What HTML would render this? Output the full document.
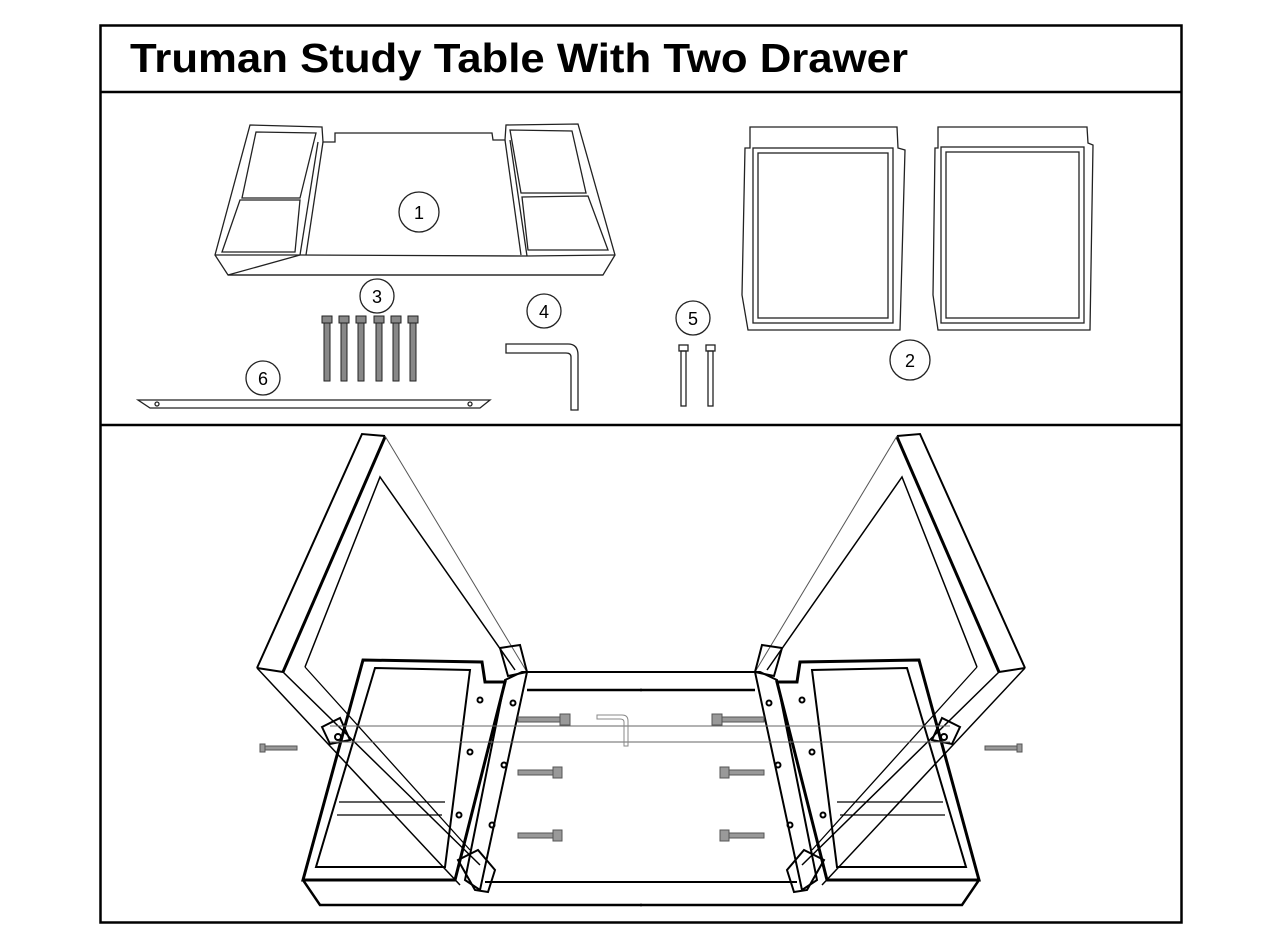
<!DOCTYPE html>
<html><head><style>
body{margin:0;background:#fff;}
svg{display:block;}
text{font-family:"Liberation Sans",sans-serif;}
</style></head><body>
<svg width="1280" height="950" viewBox="0 0 1280 950" xmlns="http://www.w3.org/2000/svg">
<rect x="0" y="0" width="1280" height="950" fill="#fff"/>
<rect x="100.5" y="25.5" width="1081" height="897" fill="none" stroke="#000" stroke-width="2.5"/>
<line x1="100" y1="92" x2="1181" y2="92" stroke="#000" stroke-width="2.5"/>
<line x1="100" y1="425" x2="1181" y2="425" stroke="#000" stroke-width="2.5"/>
<text x="130" y="72" font-size="41" font-weight="bold" textLength="778" lengthAdjust="spacingAndGlyphs">Truman Study Table With Two Drawer</text>

<g fill="none" stroke="#222" stroke-width="1.3">
<polygon points="250,125 322,127 323,142 335,142 335,133 492,133 493,140 505,140 506,125 578,124 615,255 603,275 228,275 215,255"/>
<line x1="215" y1="255" x2="300" y2="255"/><line x1="300" y1="255" x2="228" y2="275"/>
<line x1="300" y1="255" x2="527" y2="256"/><line x1="527" y1="256" x2="615" y2="255"/>
<line x1="228" y1="275" x2="603" y2="275"/>
<polygon points="256,132 316,133 300,198 242,198"/>
<polygon points="240,200 300,200 295,252 222,252"/>
<polygon points="510,130 572,131 586,193 521,193"/>
<polygon points="522,197 588,196 608,250 528,250"/>
<line x1="318" y1="142" x2="300" y2="255"/><line x1="323" y1="142" x2="306" y2="255"/>
<line x1="505" y1="140" x2="521" y2="255"/><line x1="510" y1="140" x2="527" y2="256"/>
<circle cx="419" cy="212" r="20"/><circle cx="377" cy="296" r="17"/>
<circle cx="544" cy="311" r="17"/><circle cx="693" cy="318" r="17"/>
<circle cx="910" cy="360" r="20"/><circle cx="263" cy="378" r="17"/>
<polygon points="750,127 897,127 898,148 905,150 900,330 748,330 742,295 745,148 750,148"/>
<rect x="753" y="148" width="140" height="175"/>
<rect x="758" y="153" width="130" height="165"/>
<polygon points="938,127 1087,127 1088,143 1093,145 1090,330 938,330 933,295 935,148 938,148"/>
<rect x="941" y="147" width="143" height="176"/>
<rect x="946" y="152" width="133" height="166"/>
<polygon points="138,400 490,400 480,408 150,408"/>
<circle cx="157" cy="404" r="2"/><circle cx="470" cy="404" r="2"/>
<path d="M506,344 L568,344 Q578,344 578,355 L578,410 L571,410 L571,357 Q571,353 566,353 L506,353 Z"/>
<rect x="679" y="345" width="9" height="6"/><rect x="681" y="351" width="5" height="55"/>
<rect x="706" y="345" width="9" height="6"/><rect x="708" y="351" width="5" height="55"/>
</g>
<g fill="#888" stroke="#222" stroke-width="1">
<rect x="322" y="316" width="10" height="7"/><rect x="324" y="323" width="6" height="58"/>
<rect x="339" y="316" width="10" height="7"/><rect x="341" y="323" width="6" height="58"/>
<rect x="356" y="316" width="10" height="7"/><rect x="358" y="323" width="6" height="58"/>
<rect x="374" y="316" width="10" height="7"/><rect x="376" y="323" width="6" height="58"/>
<rect x="391" y="316" width="10" height="7"/><rect x="393" y="323" width="6" height="58"/>
<rect x="408" y="316" width="10" height="7"/><rect x="410" y="323" width="6" height="58"/>
</g>
<g font-size="18" text-anchor="middle" fill="#000">
<text x="419" y="219">1</text><text x="377" y="303">3</text><text x="544" y="318">4</text>
<text x="693" y="325">5</text><text x="910" y="367">2</text><text x="263" y="385">6</text>
</g>

<g id="half" fill="none" stroke="#000" stroke-width="2">
<polyline points="385,436 362,434 257,668"/>
<line x1="385" y1="437" x2="283" y2="672" stroke-width="3"/>
<line x1="257" y1="668" x2="283" y2="672"/>
<line x1="385" y1="436" x2="527" y2="672" stroke-width="1" stroke="#555"/>
<polyline points="515,670 380,477 305,667" stroke-width="1.5"/>
<line x1="257" y1="668" x2="460" y2="885" stroke-width="1.5"/>
<line x1="283" y1="672" x2="480" y2="865" stroke-width="1.5"/>
<line x1="305" y1="667" x2="470" y2="850" stroke-width="1.3"/>
<polygon points="363,660 482,662 485,682 505,682 455,880 303,880" stroke-width="3"/>
<polygon points="375,668 470,670 445,867 316,867" stroke-width="2"/>
<line x1="339" y1="802" x2="445" y2="802" stroke-width="1.3"/>
<line x1="337" y1="815" x2="442" y2="815" stroke-width="1.3"/>
<polygon points="505,680 522,672 527,672 480,890 465,880"/>
<polygon points="500,648 520,645 527,672 508,676"/>
<polygon points="322,727 340,718 350,740 330,744"/>
<circle cx="338" cy="737" r="3"/>
<circle cx="480" cy="700" r="2.5"/><circle cx="470" cy="752" r="2.5"/><circle cx="459" cy="815" r="2.5"/>
<circle cx="513" cy="703" r="2.5"/><circle cx="504" cy="765" r="2.5"/><circle cx="492" cy="825" r="2.5"/>
<polygon points="458,860 478,850 495,870 488,892 475,890"/>
<line x1="527" y1="672" x2="642" y2="672"/>
<line x1="527" y1="690" x2="642" y2="690" stroke-width="2.5"/>
<line x1="485" y1="882" x2="642" y2="882"/>
<polyline points="303,880 320,905 642,905" stroke-width="2.5"/>
<g stroke="#555" stroke-width="1" fill="#999">
<rect x="518" y="717" width="42" height="5"/><rect x="560" y="714" width="10" height="11"/>
<rect x="518" y="770" width="35" height="5"/><rect x="553" y="767" width="9" height="11"/>
<rect x="518" y="833" width="35" height="5"/><rect x="553" y="830" width="9" height="11"/>
<rect x="262" y="746" width="35" height="4"/><rect x="260" y="744" width="5" height="8"/>
</g>
</g>
<use href="#half" transform="translate(1282,0) scale(-1,1)"/>
<line x1="330" y1="726" x2="950" y2="726" stroke="#666" stroke-width="1"/>
<line x1="330" y1="742" x2="950" y2="742" stroke="#666" stroke-width="1"/>
<path d="M597,715 L622,715 Q628,715 628,721 L628,746 L624,746 L624,722 Q624,719 620,719 L597,719 Z" fill="none" stroke="#888"/>
</svg>
</body></html>
